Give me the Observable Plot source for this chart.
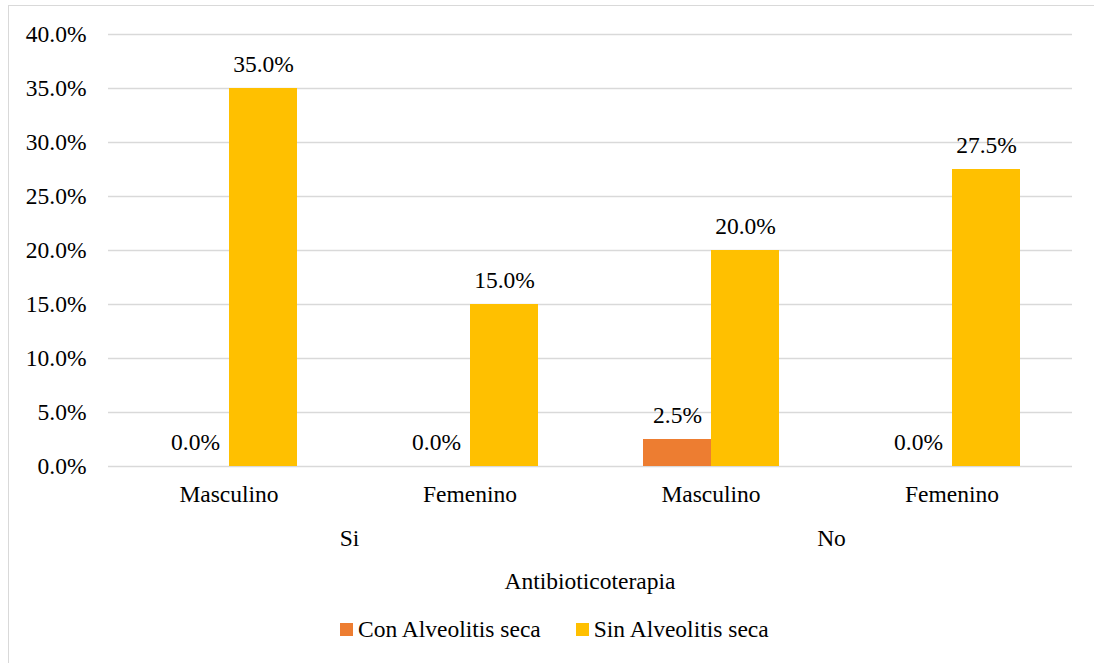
<!DOCTYPE html>
<html>
<head>
<meta charset="utf-8">
<script src="https://cdn.jsdelivr.net/npm/d3@7"></script>
<script src="https://cdn.jsdelivr.net/npm/@observablehq/plot@0.6"></script>
<style>
  html, body { margin: 0; padding: 0; background: #fff; }
  body { width: 1094px; height: 663px; position: relative; overflow: hidden;
         font-family: "Liberation Serif", "Times New Roman", Times, "Nimbus Roman", "Noto Serif", "DejaVu Serif", FreeSerif, serif; color: #000; }
  #frame { position: absolute; left: 8px; top: 5px; width: 1100px; height: 700px;
           border-left: 1.5px solid #d9d9d9; border-top: 1.5px solid #d9d9d9; box-sizing: border-box; }
  #chart { position: absolute; left: 0; top: 0; }
  #xtitle { position: absolute; left: 0; width: 1180px; top: 568px; text-align: center; font-size: 23.5px; }
  #legend { position: absolute; top: 616px; left: 340px; display: flex; align-items: center; font-size: 23.5px; white-space: nowrap; }
  .sw { display: inline-block; width: 13px; height: 13px; margin-right: 5px; }
  .item { display: flex; align-items: center; margin-right: 35px; }
</style>
</head>
<body>
<div id="frame"></div>
<div id="chart"></div>
<div id="xtitle">Antibioticoterapia</div>
<div id="legend"></div>
<script>
const groups = ["Si", "Si", "No", "No"];
const sexes = ["Masculino", "Femenino", "Masculino", "Femenino"];
const series = ["Con Alveolitis seca", "Sin Alveolitis seca"];
const conValues = [0.0, 0.0, 0.025, 0.0];
const sinValues = [0.35, 0.15, 0.20, 0.275];
const yTicks = [0, 0.05, 0.10, 0.15, 0.20, 0.25, 0.30, 0.35, 0.40];
const colors = ["#ED7D31", "#FFC000"];
const xTitle = "Antibioticoterapia";

const keys = groups.map((g, i) => g + "|" + sexes[i]);
const data = [];
keys.forEach((k, i) => {
  data.push({key: k, series: series[0], value: conValues[i]});
  data.push({key: k, series: series[1], value: sinValues[i]});
});
const groupLabels = [];
groups.forEach((g, i) => {
  if (i === 0 || groups[i - 1] !== g) groupLabels.push({key: keys[i], label: g});
});

const fmt = d3.format(".1%");
const font = "'Liberation Serif', 'Times New Roman', Times, 'Nimbus Roman', 'Noto Serif', 'DejaVu Serif', FreeSerif, serif";

const chart = Plot.plot({
  width: 1094,
  height: 560,
  marginLeft: 108,
  marginRight: 22,
  marginTop: 34,
  marginBottom: 94,
  style: {fontFamily: font, fontSize: "23.5px", color: "#000", background: "transparent", overflow: "visible"},
  fx: {domain: keys, padding: 0, label: null, axis: null},
  x: {domain: series, paddingInner: 0, paddingOuter: 0.75, axis: null},
  y: {domain: [0, 0.40], label: null},
  color: {domain: series, range: colors},
  marks: [
    Plot.gridY(yTicks, {stroke: "#d9d9d9", strokeOpacity: 1, strokeWidth: 1.3}),
    Plot.axisY(yTicks, {tickFormat: fmt, tickSize: 0, tickPadding: 22, fontSize: 23.5, label: null}),
    Plot.axisFx({anchor: "bottom", tickSize: 0, tickPadding: 19, fontSize: 23.5, label: null, tickFormat: d => d.split("|")[1]}),
    Plot.barY(data, {fx: "key", x: "series", y: "value", fill: "series"}),
    Plot.text(data, {fx: "key", x: "series", y: "value", text: d => fmt(d.value), dy: -24, fontSize: 23.5, fill: "#000"}),
    Plot.text(groupLabels, {fx: "key", text: "label", frameAnchor: "bottom-right", textAnchor: "middle", lineAnchor: "middle", dy: 72, fontSize: 23.5, fill: "#000"})
  ]
});
document.getElementById("chart").appendChild(chart);
document.getElementById("xtitle").textContent = xTitle;

const legend = document.getElementById("legend");
series.forEach((s, i) => {
  const item = document.createElement("div");
  item.className = "item";
  const sw = document.createElement("span");
  sw.className = "sw";
  sw.style.background = colors[i];
  const lab = document.createElement("span");
  lab.textContent = s;
  item.appendChild(sw);
  item.appendChild(lab);
  legend.appendChild(item);
});
</script>
</body>
</html>
